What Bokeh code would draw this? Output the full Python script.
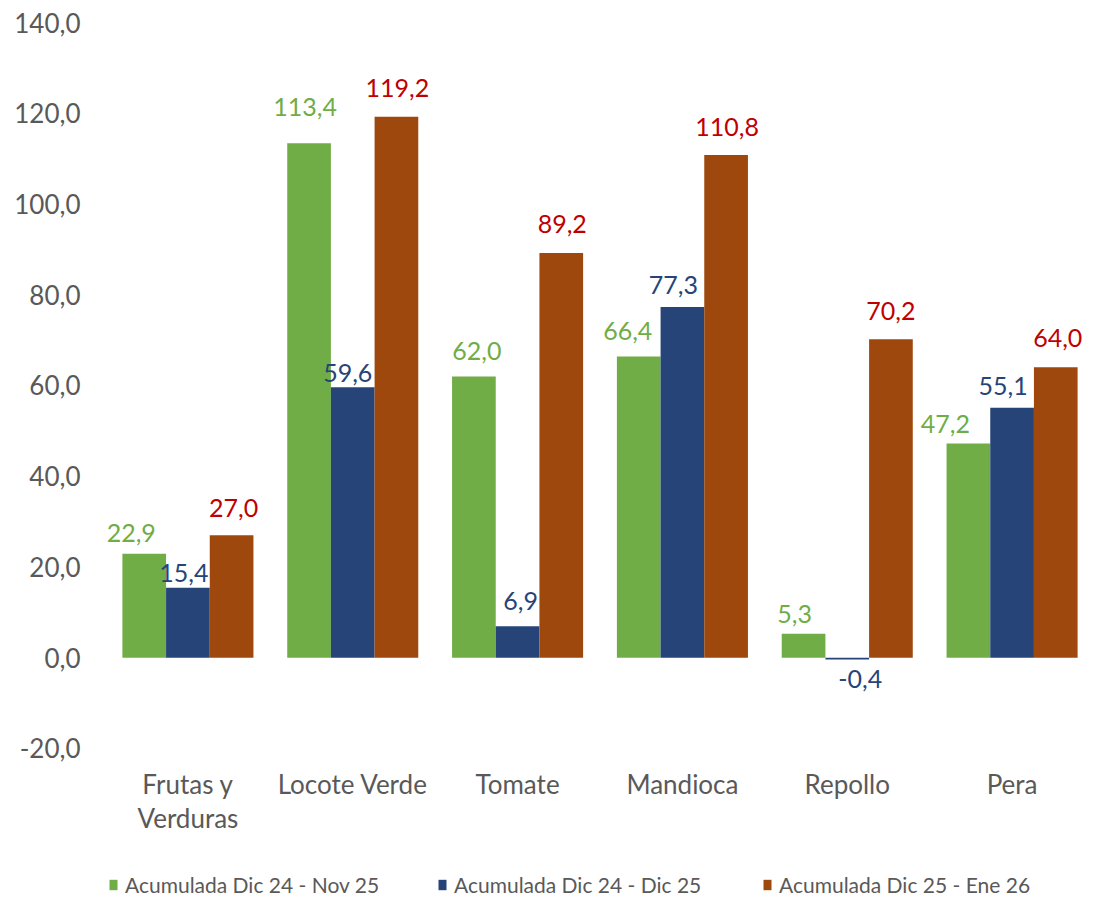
from bokeh.plotting import figure
from bokeh.models import (ColumnDataSource, FactorRange, Range1d, FixedTicker,
                          CustomJSTickFormatter, Legend, LegendItem)
from bokeh.transform import dodge
from bokeh.core.properties import value
from bokeh.embed import file_html
from bokeh.resources import INLINE

categories = ["Frutas y\nVerduras", "Locote Verde", "Tomate", "Mandioca", "Repollo", "Pera"]
series_names = ["Acumulada Dic 24 - Nov 25", "Acumulada Dic 24 - Dic 25", "Acumulada Dic 25 - Ene 26"]
green_vals = [22.9, 113.4, 62.0, 66.4, 5.3, 47.2]
blue_vals = [15.4, 59.6, 6.9, 77.3, -0.4, 55.1]
red_vals = [27.0, 119.2, 89.2, 110.8, 70.2, 64.0]
y_ticks = [-20, 0, 20, 40, 60, 80, 100, 120, 140]

# label placement tweaks (pixels) as in the original chart
green_gap = [11, 26, 15, 15, 10, 10]
blue_gap = [5, 4, 15, 12, 12, 12]
red_gap = [17, 19, 19, 18, 18, 19]
green_dx = [-13, -4, 3, -11, -9, -23]
blue_dx = [-4, -5, 3, -9, 13, -9]
red_dx = [2, 1, 1, 1, 0, 2]

bar_colors = ["#70AD47", "#264478", "#9E480E"]
label_colors = ["#70AD47", "#264478", "#C00000"]
FONT = "Lato"
GRAY = "#595959"

def fmt(v):
    return f"{v:.1f}".replace(".", ",")

p = figure(width=1094, height=899, output_backend="svg", toolbar_location=None,
           x_range=FactorRange(*categories, range_padding=0),
           y_range=Range1d(-53.3, 140),
           min_border_left=105, min_border_right=0, min_border_top=22,
           min_border_bottom=0)
p.outline_line_color = None
p.xgrid.grid_line_color = None
p.ygrid.grid_line_color = None
p.xaxis.visible = False

bw = 0.265
offsets = [-bw, 0.0, bw]
renderers = []
for vals, gaps, dxs, off, bc, lc in zip([green_vals, blue_vals, red_vals],
                                        [green_gap, blue_gap, red_gap],
                                        [green_dx, blue_dx, red_dx],
                                        offsets, bar_colors, label_colors):
    src = ColumnDataSource(dict(cat=categories, val=vals))
    r = p.vbar(x=dodge("cat", off, range=p.x_range), top="val", bottom=0, width=bw,
               source=src, fill_color=bc, line_color=None)
    renderers.append(r)
    idx_p = [i for i, v in enumerate(vals) if v >= 0]
    idx_n = [i for i, v in enumerate(vals) if v < 0]
    pos = ColumnDataSource(dict(cat=[categories[i] for i in idx_p],
                                val=[vals[i] for i in idx_p],
                                lab=[fmt(vals[i]) for i in idx_p],
                                dy=[-(gaps[i] + 10) for i in idx_p],
                                dx=[dxs[i] for i in idx_p]))
    neg = ColumnDataSource(dict(cat=[categories[i] for i in idx_n],
                                val=[0 for i in idx_n],
                                lab=[fmt(vals[i]) for i in idx_n],
                                dy=[gaps[i] for i in idx_n],
                                dx=[dxs[i] for i in idx_n]))
    p.text(x=dodge("cat", off, range=p.x_range), y="val", text="lab", source=pos,
           text_align="center", text_baseline="alphabetic", y_offset="dy", x_offset="dx",
           text_font=value(FONT), text_font_size="25px", text_color=lc)
    p.text(x=dodge("cat", off, range=p.x_range), y="val", text="lab", source=neg,
           text_align="center", text_baseline="top", y_offset="dy", x_offset="dx",
           text_font=value(FONT), text_font_size="25px", text_color=lc)

# category labels under the -20 line
cat_src = ColumnDataSource(dict(cat=categories, y=[y_ticks[0]] * len(categories)))
p.text(x="cat", y="y", text="cat", source=cat_src, text_align="center",
       text_baseline="top", y_offset=20, text_line_height=1.05,
       text_font=value(FONT), text_font_size="26px", text_color=GRAY)

p.yaxis.ticker = FixedTicker(ticks=y_ticks)
p.yaxis.formatter = CustomJSTickFormatter(code="return tick.toFixed(1).replace('.', ',');")
p.yaxis.axis_line_color = None
p.yaxis.major_tick_line_color = None
p.yaxis.minor_tick_line_color = None
p.yaxis.major_label_text_font = FONT
p.yaxis.major_label_text_font_size = "26px"
p.yaxis.major_label_text_color = GRAY
p.yaxis.major_label_standoff = 19

legend_x = [3, 332, 657]
for name, r, lx in zip(series_names, renderers, legend_x):
    lg = Legend(items=[LegendItem(label=name, renderers=[r])], location=(lx, 2),
                orientation="horizontal", background_fill_alpha=0, border_line_color=None,
                glyph_width=10, glyph_height=13, label_standoff=7, padding=0, margin=0,
                label_text_font=FONT, label_text_font_size="21px", label_text_color=GRAY)
    p.add_layout(lg, "center")

open("out.html", "w").write(file_html(p, INLINE))
